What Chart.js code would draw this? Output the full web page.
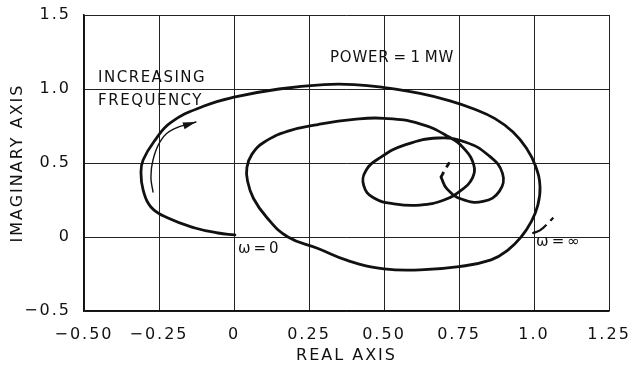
<!DOCTYPE html>
<html><head><meta charset="utf-8">
<script src="https://cdn.jsdelivr.net/npm/chart.js@4/dist/chart.umd.min.js"></script>
<style>html,body{margin:0;padding:0;background:#fff}</style>
</head><body>
<canvas id="c" width="629" height="367"></canvas>
<script>
// ---- data ----
const xTickValues = [-0.5, -0.25, 0, 0.25, 0.5, 0.75, 1.0, 1.25];
const xTickLabels = ['\u22120.50', '\u22120.25', '0', '0.25', '0.50', '0.75', '1.0', '1.25'];
const yTickValues = [-0.5, 0, 0.5, 1.0, 1.5];
const yTickLabels = ['\u22120.5', '0', '0.5', '1.0', '1.5'];

const spiralX = [0.003, -0.053, -0.13, -0.22, -0.277, -0.303, -0.31, -0.303, -0.263, -0.21, -0.1, 0.0, 0.15, 0.3, 0.4, 0.5, 0.62, 0.72, 0.8, 0.87, 0.93, 0.975, 1.005, 1.02, 1.012, 0.99, 0.957, 0.913, 0.857, 0.75, 0.62, 0.5, 0.38, 0.28, 0.18, 0.11, 0.065, 0.045, 0.043, 0.06, 0.1, 0.18, 0.28, 0.4, 0.5, 0.62, 0.713, 0.77, 0.8, 0.795, 0.76, 0.7, 0.62, 0.54, 0.465, 0.432, 0.44, 0.49, 0.57, 0.68, 0.77, 0.847, 0.895, 0.885, 0.83, 0.76, 0.71, 0.69];
const spiralY = [0.014, 0.027, 0.061, 0.128, 0.203, 0.318, 0.432, 0.52, 0.655, 0.775, 0.885, 0.945, 1.0, 1.03, 1.03, 1.01, 0.97, 0.92, 0.865, 0.8, 0.71, 0.6, 0.48, 0.34, 0.21, 0.1, 0.0, -0.088, -0.155, -0.2, -0.222, -0.215, -0.16, -0.078, 0.0, 0.13, 0.26, 0.38, 0.47, 0.56, 0.64, 0.715, 0.76, 0.795, 0.802, 0.765, 0.68, 0.59, 0.48, 0.4, 0.32, 0.25, 0.216, 0.222, 0.265, 0.35, 0.45, 0.54, 0.622, 0.669, 0.642, 0.554, 0.43, 0.31, 0.24, 0.255, 0.325, 0.405];

const centerDashX = [0.69, 0.705, 0.723];
const centerDashY = [0.405, 0.46, 0.52];

const infSolidX = [0.997, 1.015, 1.03];
const infSolidY = [0.027, 0.04, 0.06];
const infDashX = [1.03, 1.05, 1.073];
const infDashY = [0.06, 0.1, 0.149];

const arrowX = [-0.27, -0.277, -0.27, -0.243, -0.2, -0.127];
const arrowY = [0.304, 0.405, 0.52, 0.655, 0.73, 0.777];

const pts = (xs, ys) => xs.map((v, i) => ({x: v, y: ys[i]}));

const FONT = '"DejaVu Sans", "Liberation Sans", sans-serif';
const INK = '#111';

const bgPlugin = {
  id: 'bg',
  beforeUpdate(chart) { chart.ctx.letterSpacing = '2px'; },
  beforeDraw(chart) {
    const ctx = chart.ctx;
    ctx.save(); ctx.fillStyle = '#fff'; ctx.fillRect(0, 0, chart.width, chart.height); ctx.restore();
    ctx.letterSpacing = '2px';
  }
};

const annoPlugin = {
  id: 'anno',
  afterDatasetsDraw(chart) {
    const {ctx, scales: {x, y}} = chart;
    ctx.save();
    ctx.fillStyle = INK;
    ctx.textBaseline = 'middle';
    ctx.textAlign = 'left';
    ctx.font = '15px ' + FONT;
    ctx.letterSpacing = '1.5px';
    ctx.fillText('INCREASING', x.getPixelForValue(-0.453), y.getPixelForValue(1.075));
    ctx.fillText('FREQUENCY', x.getPixelForValue(-0.453), y.getPixelForValue(0.92));
    ctx.letterSpacing = '0.8px';
    ctx.fillText('POWER\u2009=\u20091\u2009MW', x.getPixelForValue(0.32), y.getPixelForValue(1.21));
    ctx.letterSpacing = '0px';
    ctx.fillText('\u03c9\u2009=\u20090', x.getPixelForValue(0.013), y.getPixelForValue(-0.081));
    ctx.fillText('\u03c9\u2009=\u2009\u221e', x.getPixelForValue(1.007), y.getPixelForValue(-0.034));
    // arrowhead
    const n = arrowX.length;
    const tx = x.getPixelForValue(arrowX[n - 1]), ty = y.getPixelForValue(arrowY[n - 1]);
    const px = x.getPixelForValue(arrowX[n - 2]), py = y.getPixelForValue(arrowY[n - 2]);
    const ang = Math.atan2(ty - py, tx - px);
    const L = 13, W = 3.5;
    ctx.beginPath();
    ctx.moveTo(tx, ty);
    ctx.lineTo(tx - L * Math.cos(ang) + W * Math.sin(ang), ty - L * Math.sin(ang) - W * Math.cos(ang));
    ctx.lineTo(tx - L * Math.cos(ang) - W * Math.sin(ang), ty - L * Math.sin(ang) + W * Math.cos(ang));
    ctx.closePath();
    ctx.fill();
    ctx.restore();
  }
};

const lineDs = (data, opts) => Object.assign({
  data, showLine: true, fill: false, borderColor: INK, backgroundColor: INK,
  borderWidth: 2.8, pointRadius: 0, pointHoverRadius: 0, tension: 0.45,
  borderCapStyle: 'round', borderJoinStyle: 'round'
}, opts || {});

new Chart(document.getElementById('c'), {
  type: 'scatter',
  data: {
    datasets: [
      lineDs(pts(spiralX, spiralY)),
      lineDs(pts(centerDashX, centerDashY), {borderDash: [6, 5], borderCapStyle: 'butt'}),
      lineDs(pts(infSolidX, infSolidY), {borderWidth: 2.2}),
      lineDs(pts(infDashX, infDashY), {borderWidth: 2.2, borderDash: [5, 5], borderCapStyle: 'butt'}),
      lineDs(pts(arrowX, arrowY), {borderWidth: 1.4})
    ]
  },
  options: {
    responsive: false,
    animation: false,
    devicePixelRatio: 1,
    layout: {padding: {left: 0, right: 20, top: 15, bottom: 0}},
    plugins: {legend: {display: false}, tooltip: {enabled: false}},
    scales: {
      x: {
        type: 'linear', min: -0.5, max: 1.25,
        afterBuildTicks(s) { s.ticks = xTickValues.map(v => ({value: v})); },
        afterFit(s) { s.height = 56; s.paddingLeft = 0; s.paddingRight = 0; },
        ticks: {
          autoSkip: false, maxRotation: 0, padding: 14, color: INK,
          font: {family: FONT, size: 16},
          callback: (v) => { const i = xTickValues.findIndex(t => Math.abs(t - v) < 1e-9); return i >= 0 ? xTickLabels[i] : ''; }
        },
        grid: {color: '#222', lineWidth: 1, drawTicks: false},
        border: {color: '#111', width: 1.5},
        title: {display: true, text: 'REAL AXIS', color: INK, font: {family: FONT, size: 16}, padding: {top: 0, bottom: 2}}
      },
      y: {
        type: 'linear', min: -0.5, max: 1.5,
        afterBuildTicks(s) { s.ticks = yTickValues.map(v => ({value: v})); },
        afterFit(s) { s.width = 84; s.paddingTop = 0; s.paddingBottom = 0; },
        ticks: {
          autoSkip: false, padding: 13, color: INK,
          font: {family: FONT, size: 16},
          callback: (v) => { const i = yTickValues.findIndex(t => Math.abs(t - v) < 1e-9); return i >= 0 ? yTickLabels[i] : ''; }
        },
        grid: {color: '#222', lineWidth: 1, drawTicks: false},
        border: {color: '#111', width: 1.5},
        title: {display: true, text: 'IMAGINARY AXIS', color: INK, font: {family: FONT, size: 16}, padding: {top: 8, bottom: 0}}
      }
    }
  },
  plugins: [bgPlugin, annoPlugin]
});
</script>
</body></html>
